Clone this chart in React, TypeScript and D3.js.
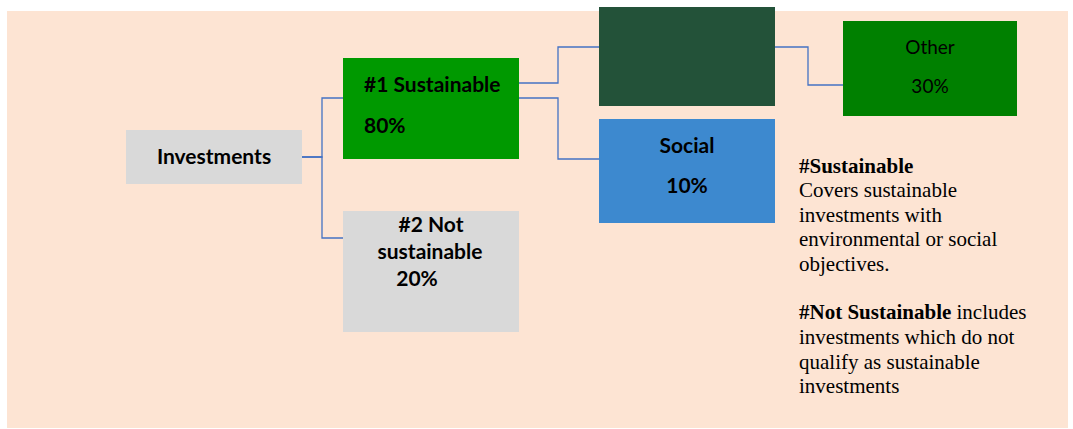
import * as d3 from "d3";
import { useEffect, useRef } from "react";

// Node content (text only — geometry lives in LAYOUT below).
const nodeIds = ["inv", "sus", "not", "env", "soc", "oth"];
const nodeLabels = [
  ["Investments"],
  ["#1 Sustainable", "80%"],
  ["#2 Not", "sustainable", "20%"],
  [],
  ["Social", "10%"],
  ["Other", "30%"],
];
const links: [string, string][] = [
  ["inv", "sus"],
  ["inv", "not"],
  ["sus", "env"],
  ["sus", "soc"],
  ["env", "oth"],
];
const notesSustainable = [
  "Covers sustainable",
  "investments with",
  "environmental or social",
  "objectives.",
];
const notesNot = [
  "investments which do not",
  "qualify as sustainable",
  "investments",
];

const W = 1073;
const H = 429;
const SANS = "Lato, 'Open Sans', sans-serif";
const SERIF = "'Liberation Serif', 'DejaVu Serif', serif";

type Box = {
  x: number; y: number; w: number; h: number; fill: string;
  weight: number; size: number; anchor: "start" | "middle";
  tx: number[]; ty: number[];
};

const LAYOUT: Record<string, Box> = {
  inv: { x: 126, y: 130, w: 176, h: 54, fill: "#d9d9d9", weight: 700, size: 21, anchor: "middle", tx: [214], ty: [164] },
  sus: { x: 343, y: 58, w: 176, h: 101, fill: "#009900", weight: 700, size: 21, anchor: "start", tx: [364, 364], ty: [92, 133] },
  not: { x: 343, y: 211, w: 176, h: 121, fill: "#d9d9d9", weight: 700, size: 21, anchor: "middle", tx: [431, 430, 417], ty: [232, 259, 286] },
  env: { x: 599, y: 7, w: 176, h: 99, fill: "#235239", weight: 400, size: 19, anchor: "middle", tx: [], ty: [] },
  soc: { x: 599, y: 119, w: 176, h: 104, fill: "#3d89cf", weight: 700, size: 21, anchor: "middle", tx: [687, 687], ty: [153, 193] },
  oth: { x: 843, y: 21, w: 174, h: 95, fill: "#008000", weight: 400, size: 19, anchor: "middle", tx: [930, 930], ty: [54, 93] },
};

// elbow connectors: [x0, y0, xMid, y1, x1]
const LINK_PATHS: Record<string, [number, number, number, number, number]> = {
  "inv-sus": [302, 157, 322, 98, 343],
  "inv-not": [302, 157, 322, 238, 343],
  "sus-env": [519, 83, 558, 47, 599],
  "sus-soc": [519, 98, 558, 159, 599],
  "env-oth": [775, 47, 808, 85, 843],
};

export default function App() {
  const ref = useRef<SVGSVGElement>(null);

  useEffect(() => {
    const el = ref.current;
    if (!el) return;
    const svg = d3.select(el);
    svg.selectAll("*").remove();

    svg.append("rect")
      .attr("x", 7).attr("y", 11)
      .attr("width", 1061).attr("height", 417)
      .attr("fill", "#fde4d3");

    const line = d3.line<[number, number]>();
    svg.append("g")
      .selectAll("path")
      .data(links)
      .join("path")
      .attr("d", ([a, b]) => {
        const [x0, y0, xm, y1, x1] = LINK_PATHS[`${a}-${b}`];
        return line([[x0, y0], [xm, y0], [xm, y1], [x1, y1]]) ?? "";
      })
      .attr("fill", "none")
      .attr("stroke", "#4472c4")
      .attr("stroke-width", 1.3);

    const nodes = nodeIds.map((id, i) => ({ id, lines: nodeLabels[i], ...LAYOUT[id] }));
    const g = svg.append("g")
      .selectAll("g")
      .data(nodes)
      .join("g");
    g.append("rect")
      .attr("x", (d) => d.x).attr("y", (d) => d.y)
      .attr("width", (d) => d.w).attr("height", (d) => d.h)
      .attr("fill", (d) => d.fill);
    g.each(function (d) {
      d3.select(this)
        .selectAll("text")
        .data(d.lines)
        .join("text")
        .attr("x", (_, i) => d.tx[i])
        .attr("y", (_, i) => d.ty[i])
        .attr("text-anchor", d.anchor)
        .attr("font-family", SANS)
        .attr("font-weight", d.weight)
        .attr("font-size", d.size)
        .attr("fill", "#000")
        .text((t) => t);
    });

    const notes = svg.append("g").attr("font-family", SERIF).attr("font-size", 21).attr("fill", "#000");
    notes.append("text").attr("x", 799).attr("y", 173).attr("font-weight", 700).text("#Sustainable");
    notes.selectAll("text.s")
      .data(notesSustainable)
      .join("text")
      .attr("class", "s")
      .attr("x", 799)
      .attr("y", (_, i) => 197 + i * 24.7)
      .text((t) => t);
    const t2 = notes.append("text").attr("x", 799).attr("y", 319);
    t2.append("tspan").attr("font-weight", 700).text("#Not Sustainable");
    t2.append("tspan").text(" includes");
    notes.selectAll("text.n")
      .data(notesNot)
      .join("text")
      .attr("class", "n")
      .attr("x", 799)
      .attr("y", (_, i) => 344 + i * 24.5)
      .text((t) => t);
  }, []);

  return (
    <svg
      ref={ref}
      width={W}
      height={H}
      style={{ position: "absolute", left: 0, top: 0, background: "#fff" }}
    />
  );
}
